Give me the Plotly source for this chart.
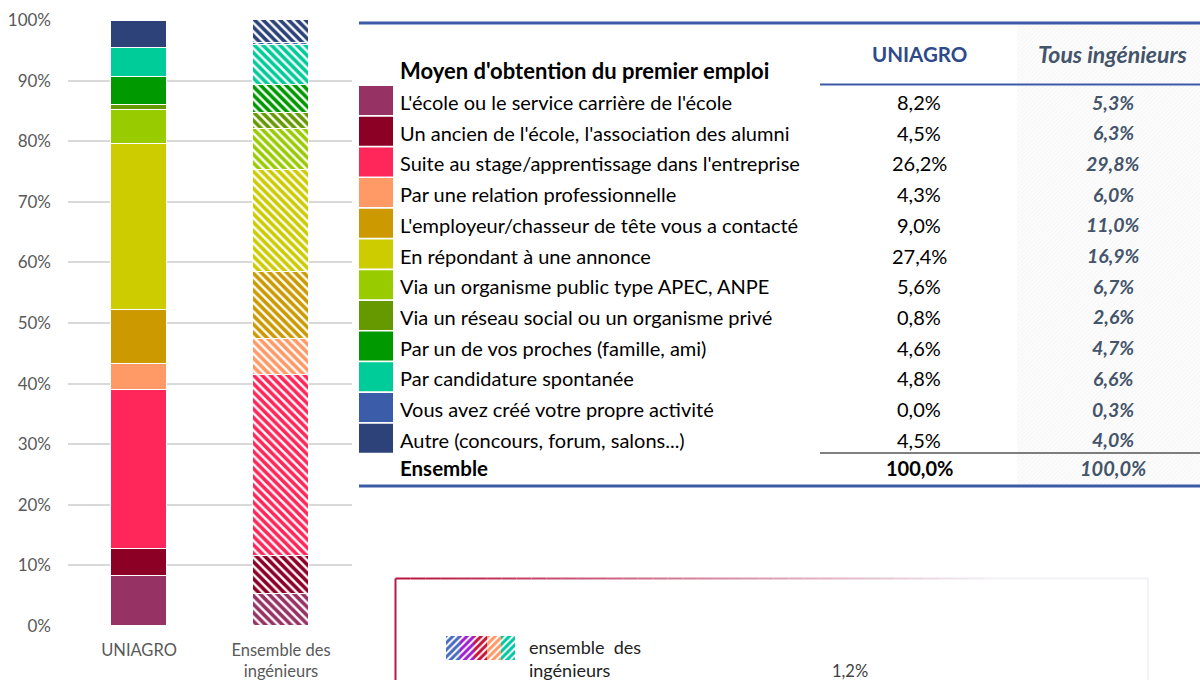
import plotly.graph_objects as go

W, H = 1200, 680

categories = ["UNIAGRO", "Ensemble des<br>ingénieurs"]
means = [
    "L'école ou le service carrière de l'école",
    "Un ancien de l'école, l'association des alumni",
    "Suite au stage/apprentissage dans l'entreprise",
    "Par une relation professionnelle",
    "L'employeur/chasseur de tête vous a contacté",
    "En répondant à une annonce",
    "Via un organisme public type APEC, ANPE",
    "Via un réseau social ou un organisme privé",
    "Par un de vos proches (famille, ami)",
    "Par candidature spontanée",
    "Vous avez créé votre propre activité",
    "Autre (concours, forum, salons...)",
]
uniagro = [8.2, 4.5, 26.2, 4.3, 9.0, 27.4, 5.6, 0.8, 4.6, 4.8, 0.0, 4.5]
tous = [5.3, 6.3, 29.8, 6.0, 11.0, 16.9, 6.7, 2.6, 4.7, 6.6, 0.3, 4.0]
total_uniagro = 100.0
total_tous = 100.0
colors = ["#963264", "#8C0026", "#FF2659", "#FF9966", "#CC9900", "#CCCC00",
          "#99CC00", "#669900", "#009900", "#00CC99", "#3B5CA8", "#2C4278"]
yticks = [0, 10, 20, 30, 40, 50, 60, 70, 80, 90, 100]
ytick_labels = [f"{v}%" for v in yticks]
table_title = "Moyen d'obtention du premier emploi"
col_headers = ["UNIAGRO", "Tous ingénieurs"]
total_label = "Ensemble"
box_legend = "ensemble&nbsp; des<br>ingénieurs"
box_value = "1,2%"
icon_colors = ["#4A6CC0", "#A020D0", "#C8143C", "#FF9966", "#00C8A0"]


def fx(x):
    return x / W


def fy(y):
    return 1 - y / H


def fmt(v):
    return f"{v:.1f}".replace(".", ",") + "%"


FONT = "Lato"
fig = go.Figure()

# solid bars (UNIAGRO)
for i, name in enumerate(means):
    fig.add_trace(go.Bar(
        x=[categories[0]], y=[uniagro[i]], name=name, width=0.39,
        marker=dict(color=colors[i], line=dict(color="white", width=1.5)),
        showlegend=False, hoverinfo="name+y",
    ))
# hatched bars (Ensemble des ingénieurs)
for i, name in enumerate(means):
    fig.add_trace(go.Bar(
        x=[categories[1]], y=[tous[i]], name=name, width=0.39,
        marker=dict(color="white", line=dict(color="white", width=1.5),
                    pattern=dict(shape="\\", fgcolor=colors[i], bgcolor="white", fgopacity=1,
                                 size=6, solidity=0.6, fillmode="replace")),
        showlegend=False, hoverinfo="name+y",
    ))

# icon in the bottom box
fig.add_trace(go.Bar(
    x=[0, 1, 2, 3, 4], y=[1, 1, 1, 1, 1], width=1, xaxis="x3", yaxis="y3",
    marker=dict(color="white", line=dict(width=0),
                pattern=dict(shape="/", fgcolor=icon_colors, bgcolor="white", fgopacity=1,
                             size=5, solidity=0.6)),
    showlegend=False, hoverinfo="skip",
))
# shaded column background
fig.add_trace(go.Bar(
    x=[0], y=[1], width=1, xaxis="x4", yaxis="y4",
    marker=dict(color="#F7F7F7", line=dict(width=0),
                pattern=dict(shape="/", fgcolor="#E8E8E8", bgcolor="#FCFCFC", size=3, solidity=0.25)),
    showlegend=False, hoverinfo="skip",
))

shapes = []
ann = []

# table lines
blue = "#3C5AA8"
shapes.append(dict(type="line", xref="paper", yref="paper", x0=fx(359), x1=1, y0=fy(23), y1=fy(23),
                   line=dict(color=blue, width=3)))
shapes.append(dict(type="line", xref="paper", yref="paper", x0=fx(820), x1=1, y0=fy(84.5), y1=fy(84.5),
                   line=dict(color=blue, width=2)))
shapes.append(dict(type="line", xref="paper", yref="paper", x0=fx(820), x1=1, y0=fy(453), y1=fy(453),
                   line=dict(color="black", width=1)))
shapes.append(dict(type="line", xref="paper", yref="paper", x0=fx(359), x1=1, y0=fy(486), y1=fy(486),
                   line=dict(color=blue, width=3)))

ann.append(dict(x=fx(398), y=fy(71), text=f"<b>{table_title}</b>", xanchor="left", yanchor="middle",
                font=dict(size=22, color="black", family=FONT)))
ann.append(dict(x=fx(919), y=fy(54), text=f"<b>{col_headers[0]}</b>", xanchor="center", yanchor="middle",
                font=dict(size=20.5, color="#2E4A8A", family=FONT)))
ann.append(dict(x=fx(1113), y=fy(54), text=f"<b><i>{col_headers[1]}</i></b>", xanchor="center",
                yanchor="middle", font=dict(size=23, color="#44546A", family=FONT)))

row_h = 30.7
for i, name in enumerate(means):
    yc = 102 + i * row_h
    shapes.append(dict(type="rect", xref="paper", yref="paper", x0=fx(359), x1=fx(393),
                       y0=fy(yc - 16), y1=fy(yc + 13), fillcolor=colors[i], line=dict(width=0)))
    ann.append(dict(x=fx(398), y=fy(yc), text=name, xanchor="left", yanchor="middle",
                    font=dict(size=20, color="black", family=FONT)))
    ann.append(dict(x=fx(919), y=fy(yc), text=fmt(uniagro[i]), xanchor="center", yanchor="middle",
                    font=dict(size=20, color="black", family=FONT)))
    ann.append(dict(x=fx(1113), y=fy(yc), text=f"<b><i>{fmt(tous[i])}</i></b>", xanchor="center",
                    yanchor="middle", font=dict(size=19.5, color="#44546A", family=FONT)))

ann.append(dict(x=fx(398), y=fy(468), text=f"<b>{total_label}</b>", xanchor="left", yanchor="middle",
                font=dict(size=20.5, color="black", family=FONT)))
ann.append(dict(x=fx(919), y=fy(468), text=f"<b>{fmt(total_uniagro)}</b>", xanchor="center",
                yanchor="middle", font=dict(size=20, color="black", family=FONT)))
ann.append(dict(x=fx(1113), y=fy(468), text=f"<b><i>{fmt(total_tous)}</i></b>", xanchor="center",
                yanchor="middle", font=dict(size=20, color="#44546A", family=FONT)))

# bottom box
shapes.append(dict(type="line", xref="paper", yref="paper", x0=fx(395.5), x1=fx(395.5), y0=fy(578.5),
                   y1=fy(700), line=dict(color="#B81848", width=2)))
c0 = (184, 22, 66)
c1 = (242, 240, 246)
N = 40
x_start, x_end = 395.5, 1000
for k in range(N):
    t = k / (N - 1)
    col = tuple(int(c0[j] + (c1[j] - c0[j]) * t) for j in range(3))
    xa = x_start + (x_end - x_start) * k / N
    xb = x_start + (x_end - x_start) * (k + 1) / N
    shapes.append(dict(type="line", xref="paper", yref="paper", x0=fx(xa), x1=fx(xb), y0=fy(578.5),
                       y1=fy(578.5), line=dict(color=f"rgb{col}", width=2)))
shapes.append(dict(type="line", xref="paper", yref="paper", x0=fx(1000), x1=fx(1148), y0=fy(578.5),
                   y1=fy(578.5), line=dict(color="rgb(242,240,246)", width=2)))
shapes.append(dict(type="line", xref="paper", yref="paper", x0=fx(1148), x1=fx(1148), y0=fy(578.5),
                   y1=fy(700), line=dict(color="rgb(240,238,245)", width=1.5)))

ann.append(dict(x=fx(527), y=fy(658), text=box_legend, xanchor="left", yanchor="middle", align="left",
                font=dict(size=18, color="#222222", family=FONT)))
ann.append(dict(x=fx(850), y=fy(671), text=box_value, xanchor="center", yanchor="middle",
                font=dict(size=16.5, color="#404040", family=FONT)))

for a in ann:
    a.setdefault("xref", "paper")
    a.setdefault("yref", "paper")
    a["showarrow"] = False

fig.update_layout(
    width=W, height=H, autosize=False,
    margin=dict(l=0, r=0, t=0, b=0, pad=0, autoexpand=False),
    paper_bgcolor="white", plot_bgcolor="white",
    barmode="stack", bargap=0,
    font=dict(family=FONT),
    xaxis=dict(domain=[fx(68), fx(352)], range=[-0.5, 1.5], showgrid=False, zeroline=False,
               categoryorder="array", categoryarray=categories,
               showline=False, ticks="", tickfont=dict(size=16.5, color="#595959", family=FONT),
               ticklabelstandoff=12, fixedrange=True, automargin=False),
    yaxis=dict(domain=[fy(626), fy(20)], range=[0, 100], tickvals=yticks, ticktext=ytick_labels,
               showgrid=True, gridcolor="#D9D9D9", gridwidth=1.5, zeroline=False, showline=False,
               ticks="", tickfont=dict(size=17, color="#595959", family=FONT), ticklabelstandoff=16,
               fixedrange=True, automargin=False),
    xaxis3=dict(domain=[fx(446), fx(515)], range=[-0.5, 4.5], visible=False, anchor="y3",
                fixedrange=True, automargin=False),
    yaxis3=dict(domain=[fy(660), fy(636)], range=[0, 1], visible=False, anchor="x3",
                fixedrange=True, automargin=False),
    xaxis4=dict(domain=[fx(1017), 1], range=[-0.5, 0.5], visible=False, anchor="y4",
                fixedrange=True, automargin=False),
    yaxis4=dict(domain=[fy(485), fy(24)], range=[0, 1], visible=False, anchor="x4",
                fixedrange=True, automargin=False),
    shapes=shapes,
    annotations=ann,
)

fig.write_html(
    "out.html",
    config={"displayModeBar": False},
    post_script="document.body.style.margin='0px';document.body.style.padding='0px';"
                "document.body.style.overflow='hidden';",
)
